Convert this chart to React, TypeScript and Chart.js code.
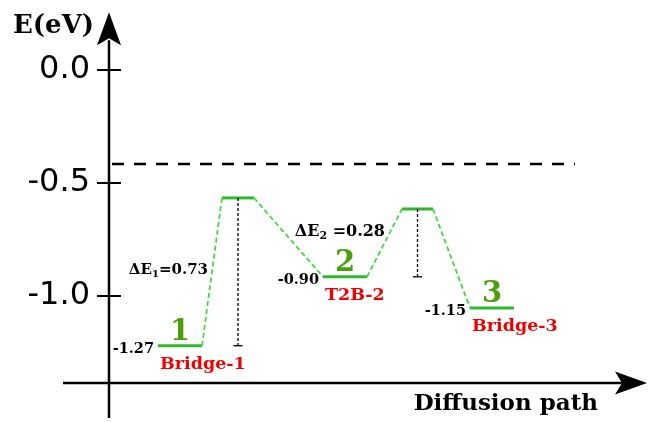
import React, { useEffect, useRef } from 'react';
import { Chart, registerables } from 'chart.js';

Chart.register(...registerables);

// ---- data ----
const stateNumbers = ['1', '2', '3'];
const stateNames = ['Bridge-1', 'T2B-2', 'Bridge-3'];
const stateEnergyLabels = ['-1.27', '-0.90', '-1.15'];
const stateEnergies = [-1.22, -0.915, -1.053];
const stateStart = [4.9, 21.4, 36.1];
const stateEnd = [9.3, 25.8, 40.5];

const tsEnergies = [-0.566, -0.615];
const tsStart = [11.3, 29.3];
const tsEnd = [14.5, 32.4];

const barrierSubs = ['1', '2'];
const barrierValues = ['0.73', '0.28'];

const referenceEnergy = -0.416;
const referenceSpan = [0.3, 46.6];

const yTicks = [0.0, -0.5, -1.0];
const yTickLabels = ['0.0', '-0.5', '-1.0'];

const yAxisTitle = 'E(eV)';
const xAxisTitle = 'Diffusion path';

// axis geometry in data units
const xAxisEnergy = -1.385;
const xAxisSpan = [-4.6, 53.8];
const yAxisSpan = [-1.54, 0.255];

const SERIF = '"DejaVu Serif", serif';

export default function App() {
  const ref = useRef<HTMLCanvasElement | null>(null);

  useEffect(() => {
    if (!ref.current) return;

    // plateaus: state, ts, state, ts, state
    const plateaus: { s: number; e: number; y: number }[] = [];
    for (let i = 0; i < stateEnergies.length; i++) {
      plateaus.push({ s: stateStart[i], e: stateEnd[i], y: stateEnergies[i] });
      if (i < tsEnergies.length) plateaus.push({ s: tsStart[i], e: tsEnd[i], y: tsEnergies[i] });
    }

    const datasets: any[] = [];
    // reference dashed line
    datasets.push({
      data: [
        { x: referenceSpan[0], y: referenceEnergy },
        { x: referenceSpan[1], y: referenceEnergy },
      ],
      borderColor: '#000',
      borderWidth: 2.5,
      borderDash: [12, 10],
    });
    // connectors
    for (let i = 0; i < plateaus.length - 1; i++) {
      datasets.push({
        data: [
          { x: plateaus[i].e, y: plateaus[i].y },
          { x: plateaus[i + 1].s, y: plateaus[i + 1].y },
        ],
        borderColor: '#44d844',
        borderWidth: 1.8,
        borderDash: [5, 3],
      });
    }
    // barrier verticals + caps
    for (let i = 0; i < tsEnergies.length; i++) {
      const cx = (tsStart[i] + tsEnd[i]) / 2;
      datasets.push({
        data: [
          { x: cx, y: tsEnergies[i] },
          { x: cx, y: stateEnergies[i] },
        ],
        borderColor: '#000',
        borderWidth: 1.3,
        borderDash: [3, 2],
      });
      datasets.push({
        data: [
          { x: cx - 0.45, y: stateEnergies[i] },
          { x: cx + 0.45, y: stateEnergies[i] },
        ],
        borderColor: '#000',
        borderWidth: 1.3,
      });
    }
    // plateaus
    for (const p of plateaus) {
      datasets.push({
        data: [
          { x: p.s, y: p.y },
          { x: p.e, y: p.y },
        ],
        borderColor: '#2fb82f',
        borderWidth: 3,
      });
    }
    datasets.forEach((d) => {
      d.pointRadius = 0;
      d.fill = false;
      d.tension = 0;
      d.showLine = true;
    });

    const decor = {
      id: 'decor',
      afterDraw(chart: any) {
        const ctx = chart.ctx as CanvasRenderingContext2D;
        const xs = chart.scales.x;
        const ys = chart.scales.y;
        const ax = chart.chartArea.left;
        ctx.save();
        ctx.strokeStyle = '#000';
        ctx.fillStyle = '#000';
        ctx.lineCap = 'butt';

        // y axis
        const yTop = ys.getPixelForValue(yAxisSpan[1]);
        ctx.lineWidth = 2.5;
        ctx.beginPath();
        ctx.moveTo(ax, ys.getPixelForValue(yAxisSpan[0]));
        ctx.lineTo(ax, yTop + 28);
        ctx.stroke();
        ctx.beginPath();
        ctx.moveTo(ax, yTop);
        ctx.lineTo(ax - 12, yTop + 33);
        ctx.lineTo(ax, yTop + 26);
        ctx.lineTo(ax + 12, yTop + 33);
        ctx.closePath();
        ctx.fill();

        // y ticks
        ctx.lineWidth = 2;
        for (const v of yTicks) {
          const py = ys.getPixelForValue(v);
          ctx.beginPath();
          ctx.moveTo(ax - 12, py);
          ctx.lineTo(ax + 12, py);
          ctx.stroke();
        }

        // x axis
        const py0 = ys.getPixelForValue(xAxisEnergy);
        const xTip = xs.getPixelForValue(xAxisSpan[1]);
        ctx.lineWidth = 2.5;
        ctx.beginPath();
        ctx.moveTo(xs.getPixelForValue(xAxisSpan[0]), py0);
        ctx.lineTo(xTip - 24, py0);
        ctx.stroke();
        ctx.beginPath();
        ctx.moveTo(xTip, py0);
        ctx.lineTo(xTip - 32, py0 - 11.5);
        ctx.lineTo(xTip - 25, py0);
        ctx.lineTo(xTip - 32, py0 + 11.5);
        ctx.closePath();
        ctx.fill();

        // axis titles
        ctx.textAlign = 'left';
        ctx.textBaseline = 'alphabetic';
        ctx.font = `bold 26px ${SERIF}`;
        ctx.fillText(yAxisTitle, 13, 33);
        ctx.font = `bold 23px ${SERIF}`;
        ctx.textAlign = 'right';
        ctx.fillText(xAxisTitle, 598, 410);

        // state labels
        for (let i = 0; i < stateEnergies.length; i++) {
          const x0 = xs.getPixelForValue(stateStart[i]);
          const x1 = xs.getPixelForValue(stateEnd[i]);
          const py = ys.getPixelForValue(stateEnergies[i]);
          ctx.fillStyle = '#000';
          ctx.textAlign = 'right';
          ctx.font = `bold 14.5px ${SERIF}`;
          ctx.fillText(stateEnergyLabels[i], x0 - 4, py + 7);

          ctx.fillStyle = '#4aa00c';
          ctx.textAlign = 'center';
          ctx.font = `bold 29px ${SERIF}`;
          ctx.fillText(stateNumbers[i], (x0 + x1) / 2, py - 6);

          ctx.fillStyle = '#f00000';
          ctx.textAlign = 'left';
          ctx.font = `bold 17.5px ${SERIF}`;
          ctx.fillText(stateNames[i], x0 + 2, py + 23);
        }

        // barrier labels
        const sizes = [15, 16];
        const gaps = ['', ' '];
        const dyOff = [2, -7];
        const dxOff = [14, 17];
        for (let i = 0; i < tsEnergies.length; i++) {
          const fs = sizes[i];
          const right = xs.getPixelForValue(tsStart[i]) - dxOff[i];
          const mid = (ys.getPixelForValue(tsEnergies[i]) + ys.getPixelForValue(stateEnergies[i])) / 2;
          const base = mid + dyOff[i];
          const mainFont = `bold ${fs}px ${SERIF}`;
          const subFont = `bold ${Math.round(fs * 0.68)}px ${SERIF}`;
          const p1 = '\u0394E';
          const p3 = gaps[i] + '=' + barrierValues[i];
          ctx.font = mainFont;
          const w1 = ctx.measureText(p1).width;
          const w3 = ctx.measureText(p3).width;
          ctx.font = subFont;
          const w2 = ctx.measureText(barrierSubs[i]).width;
          let x = right - (w1 + w2 + w3);
          ctx.fillStyle = '#000';
          ctx.textAlign = 'left';
          ctx.font = mainFont;
          ctx.fillText(p1, x, base);
          x += w1;
          ctx.font = subFont;
          ctx.fillText(barrierSubs[i], x, base + 3);
          x += w2;
          ctx.font = mainFont;
          ctx.fillText(p3, x, base);
        }

        ctx.restore();
      },
    };

    const chart = new Chart(ref.current, {
      type: 'scatter',
      data: { datasets },
      options: {
        animation: false,
        responsive: false,
        maintainAspectRatio: false,
        layout: { padding: { top: 20, bottom: 20, left: 0, right: 0 } },
        plugins: { legend: { display: false }, tooltip: { enabled: false } },
        scales: {
          x: { type: 'linear', display: false, min: 0, max: 54 },
          y: {
            type: 'linear',
            min: -1.469,
            max: 0.2212,
            afterBuildTicks: (s: any) => {
              s.ticks = yTicks.map((v) => ({ value: v }));
            },
            afterFit: (s: any) => {
              s.width = 109;
              s.paddingTop = 0;
              s.paddingBottom = 0;
            },
            grid: { display: false },
            border: { display: false },
            ticks: {
              color: '#000',
              padding: 11,
              font: { family: 'DejaVu Sans', size: 32 },
              callback: (v: any) => {
                const idx = yTicks.findIndex((t) => Math.abs(t - Number(v)) < 1e-9);
                return idx >= 0 ? yTickLabels[idx] : '';
              },
            },
          },
        },
      },
      plugins: [decor],
    });

    return () => chart.destroy();
  }, []);

  return (
    <div style={{ position: 'absolute', left: 0, top: 0, width: 649, height: 422, background: '#fff' }}>
      <canvas ref={ref} width={649} height={422} />
    </div>
  );
}
